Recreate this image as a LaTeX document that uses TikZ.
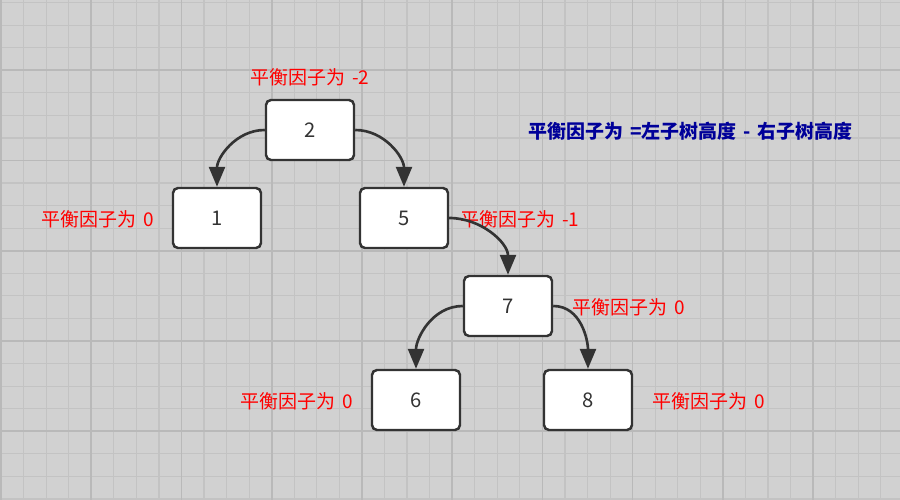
\documentclass[tikz,border=0pt]{standalone}
\usepackage{fontspec}
\usepackage{xcolor}
\usepackage{tikz}
\usetikzlibrary{arrows.meta}
\newfontfamily\cjk[WordSpace=1.6]{Noto Sans CJK SC}
\definecolor{bgGray}{HTML}{D1D1D1}
\definecolor{gridMinor}{HTML}{C3C3C3}
\definecolor{gridMajor}{HTML}{B9B9B9}
\definecolor{edgeDark}{HTML}{333333}
\definecolor{bfRed}{HTML}{FF0000}
\definecolor{noteBlue}{HTML}{000099}

\begin{document}
\begin{tikzpicture}[x=0.02cm, y=-0.02cm,
  every node/.style={font=\cjk},
  treenode/.style={draw=edgeDark, line width=1.4pt, fill=white, rounded corners=0.1cm,
             minimum width=1.76cm, minimum height=1.2cm, inner sep=0pt,
             font=\cjk\fontsize{11.5}{13}\selectfont, text=edgeDark},
  bf/.style={text=bfRed, inner sep=0pt, font=\cjk\fontsize{10.8}{12}\selectfont},
  arr/.style={-{Triangle[length=4mm, width=3.2mm]}, line width=1.5pt, edgeDark},
]
\useasboundingbox (0,0) rectangle (900,500);

% Background grid
\fill[bgGray] (0,0) rectangle (900,500);
\foreach \i in {0,...,39}
  \draw[gridMinor, line width=0.7pt] ({1+22.56*\i},0) -- ({1+22.56*\i},500);
\foreach \i in {0,...,22}
  \draw[gridMinor, line width=0.7pt] (0,{2.6+22.56*\i}) -- (900,{2.6+22.56*\i});
\foreach \i in {0,4,...,39}
  \draw[gridMajor, line width=0.9pt] ({1+22.56*\i},0) -- ({1+22.56*\i},500);
\foreach \i in {3,7,...,22}
  \draw[gridMajor, line width=0.9pt] (0,{2.6+22.56*\i}) -- (900,{2.6+22.56*\i});

% Tree nodes
\node[treenode] (n2) at (310,130) {2};
\node[treenode] (n1) at (217,218) {1};
\node[treenode] (n5) at (404,218) {5};
\node[treenode] (n7) at (508,306) {7};
\node[treenode] (n6) at (416,400) {6};
\node[treenode] (n8) at (588,400) {8};

% Balance factors
\node[bf] (bf2) at (310,77) {平衡因子为 -2};
\node[bf, anchor=east] (bf1) at (154,219) {平衡因子为 0};
\node[bf, anchor=west] (bf5) at (460,219) {平衡因子为 -1};
\node[bf, anchor=west] (bf7) at (572,307) {平衡因子为 0};
\node[bf, anchor=east] (bf6) at (353,401) {平衡因子为 0};
\node[bf, anchor=west] (bf8) at (652,401) {平衡因子为 0};

% Arrows
\draw[arr] (n2.west) to[out=180, in=90] (n1.north);
\draw[arr] (n2.east) to[out=0, in=90] (n5.north);
\draw[arr] (n5.east) to[out=0, in=90] (n7.north);
\draw[arr] (n7.west) to[out=180, in=90] (n6.north);
\draw[arr] (n7.east) to[out=0, in=90] (n8.north);

% Note
\node[text=noteBlue, inner sep=0pt, font=\cjk\bfseries\fontsize{10.8}{12}\selectfont,
  anchor=west] (note) at (528,131) {平衡因子为 =左子树高度 - 右子树高度};

\end{tikzpicture}
\end{document}
